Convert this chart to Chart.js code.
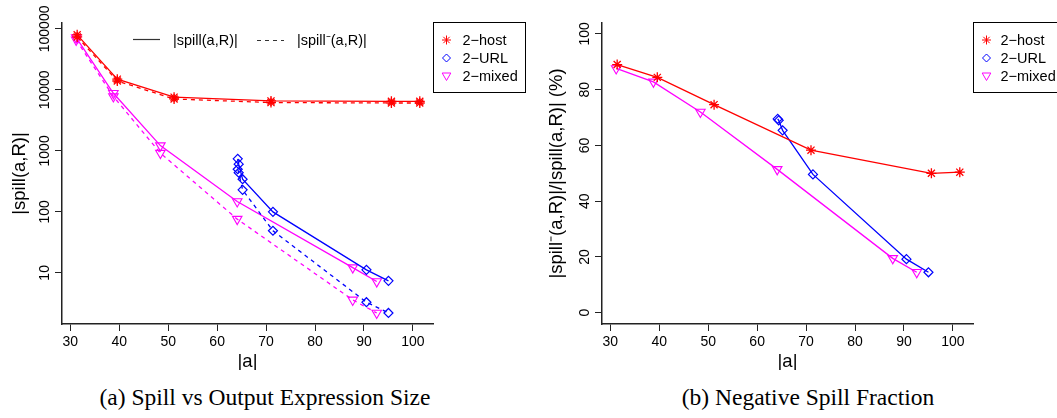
<!DOCTYPE html>
<html><head><meta charset="utf-8">
<script src="https://cdn.jsdelivr.net/npm/chart.js@4.4.1/dist/chart.umd.min.js"></script>
<style>
html,body{margin:0;padding:0;background:#fff;width:1057px;height:418px;overflow:hidden;}
#c1{position:absolute;left:0;top:0;}
#c2{position:absolute;left:540px;top:0;}
.cap{position:absolute;top:384px;font-family:"Liberation Serif","Times New Roman",serif;font-size:23.5px;color:#000;white-space:nowrap;transform:translateX(-50%);}
</style></head><body>
<canvas id="c1" width="540" height="370"></canvas>
<canvas id="c2" width="517" height="370"></canvas>
<div class="cap" style="left:265px">(a) Spill vs Output Expression Size</div>
<div class="cap" style="left:808px">(b) Negative Spill Fraction</div>
<script>
// ---- data ----
const xTicks = [30, 40, 50, 60, 70, 80, 90, 100];
const yTicksLog = [10, 100, 1000, 10000, 100000];
const yTicksPct = [0, 20, 40, 60, 80, 100];
const seriesNames = ['2\u2212host', '2\u2212URL', '2\u2212mixed'];

const hostX = [31.4, 39.6, 51.2, 71.0, 95.6, 101.4];
const hostSpill = [80000, 15000, 7600, 6600, 6500, 6500];
const hostNeg = [74000, 14000, 7100, 6200, 6100, 6100];
const hostPct = [89.0, 84.4, 74.6, 58.3, 50.0, 50.4];

const urlX = [64.2, 64.4, 65.2, 71.4, 90.5, 95.0];
const urlSpill = [740, 605, 343, 100, 11.2, 7.4];
const urlNeg = [500, 440, 230, 49, 3.3, 2.2];
const urlPct = [69.5, 69.0, 65.4, 49.6, 19.2, 14.5];

const mixX = [31.2, 38.8, 48.4, 64.1, 87.7, 92.6];
const mixSpill = [72000, 8800, 1220, 148, 12.2, 7.2];
const mixNeg = [66000, 7800, 920, 76, 3.6, 2.2];
const mixPct = [87.6, 82.8, 72.0, 51.4, 19.5, 14.5];

// ---- styles ----
const RED = '#ff0000', BLUE = '#0000ff', MAG = '#ff00ff';
const AX = '#222';
const SANS = '"Liberation Sans", Arial, Helvetica, sans-serif';
const marks = [
  {color: RED, pointStyle: 'star', radius: 5, rotation: 0, bw: 1.3},
  {color: BLUE, pointStyle: 'rectRot', radius: 4.5, rotation: 0, bw: 1.2},
  {color: MAG, pointStyle: 'triangle', radius: 5.5, rotation: 180, bw: 1.1}
];

function pts(xs, ys) { return xs.map((x, i) => ({x: x, y: ys[i]})); }
function ds(xs, ys, m, dashed) {
  return {
    data: pts(xs, ys),
    borderColor: m.color, backgroundColor: 'rgba(0,0,0,0)',
    borderWidth: 1.3, borderDash: dashed ? [4, 4] : [],
    pointStyle: m.pointStyle, pointRadius: m.radius, pointRotation: m.rotation,
    pointBorderColor: m.color, pointBackgroundColor: 'rgba(0,0,0,0)', pointBorderWidth: m.bw,
    tension: 0, clip: false, showLine: true
  };
}

const origDrawPoint = Chart.helpers.drawPoint;
function legendMarker(ctx, i, x, y) {
  const m = marks[i];
  ctx.save();
  ctx.strokeStyle = m.color; ctx.fillStyle = 'rgba(0,0,0,0)'; ctx.setLineDash([]);
  origDrawPoint(ctx, {pointStyle: m.pointStyle, radius: m.radius - 0.5, rotation: m.rotation, borderWidth: m.bw}, x, y);
  ctx.restore();
}

const textPlugin = {
  id: 'txt',
  afterDraw(chart, args, opts) {
    const ctx = chart.ctx, ca = chart.chartArea;
    const xs = chart.scales.x, ys = chart.scales.y;
    ctx.save();
    ctx.fillStyle = '#000';
    ctx.font = '14px ' + SANS;
    ctx.textAlign = 'center'; ctx.textBaseline = 'alphabetic';
    xTicks.forEach(v => ctx.fillText(String(v), xs.getPixelForValue(v), 346));
    opts.yTicks.forEach(v => {
      const p = ys.getPixelForValue(v);
      ctx.save(); ctx.translate(ca.left - 13, p); ctx.rotate(-Math.PI / 2);
      ctx.fillText(String(v), 0, 0); ctx.restore();
    });
    ctx.font = '18.5px ' + SANS;
    ctx.fillText('|a|', (ca.left + ca.right) / 2, 367);
    ctx.save(); ctx.translate(opts.yTitleX, (ca.top + ca.bottom) / 2); ctx.rotate(-Math.PI / 2);
    ctx.fillText(opts.yTitle, 0, 0); ctx.restore();

    // series legend box
    const bx = ca.right + 0.5, by = 22.5, bw = 92, bh = 70;
    ctx.strokeStyle = '#000'; ctx.lineWidth = 1; ctx.setLineDash([]);
    ctx.strokeRect(bx, by, bw, bh);
    ctx.font = '14.5px ' + SANS; ctx.textAlign = 'left'; ctx.textBaseline = 'middle';
    [40, 58, 75.5].forEach((yy, i) => {
      legendMarker(ctx, i, bx + 13, yy);
      ctx.fillStyle = '#000';
      ctx.fillText(seriesNames[i], bx + opts.legTextOff, yy + 1);
    });
    // line-type legend (left panel only)
    if (opts.lineLegend) {
      ctx.strokeStyle = '#333'; ctx.lineWidth = 1.2;
      ctx.beginPath(); ctx.moveTo(133, 39.5); ctx.lineTo(160, 39.5); ctx.stroke();
      ctx.setLineDash([4, 4]);
      ctx.beginPath(); ctx.moveTo(257, 40.5); ctx.lineTo(284, 40.5); ctx.stroke();
      ctx.setLineDash([]);
      ctx.fillStyle = '#000';
      ctx.fillText('|spill(a,R)|', 173, 41);
      ctx.fillText('|spill\u207B(a,R)|', 297, 41);
    }
    ctx.restore();
  }
};

function axisCommon(ticksArr, fitFn) {
  return {
    afterBuildTicks: s => { s.ticks = ticksArr.map(v => ({value: v})); },
    afterFit: fitFn,
    ticks: {display: false},
    grid: {display: true, drawOnChartArea: false, drawTicks: true, tickLength: 7, color: AX, lineWidth: 1},
    border: {display: true, color: AX, width: 1.5}
  };
}

function makeChart(id, datasets, yScale, rightPad, opts) {
  return new Chart(document.getElementById(id), {
    type: 'scatter',
    data: {datasets: datasets},
    options: {
      responsive: false, animation: false, devicePixelRatio: 1,
      layout: {padding: {top: 23, right: rightPad, left: 0, bottom: 0}},
      plugins: {legend: {display: false}, tooltip: {enabled: false}, txt: opts},
      scales: {
        x: Object.assign({type: 'linear', min: 28.3, max: 104.1}, axisCommon(xTicks, s => { s.height = 46; })),
        y: Object.assign(yScale, axisCommon(opts.yTicks, s => { s.width = 62; }))
      }
    },
    plugins: [textPlugin]
  });
}

const leftSets = [
  ds(hostX, hostSpill, marks[0], false), ds(hostX, hostNeg, marks[0], true),
  ds(urlX, urlSpill, marks[1], false), ds(urlX, urlNeg, marks[1], true),
  ds(mixX, mixSpill, marks[2], false), ds(mixX, mixNeg, marks[2], true)
];
const rightSets = [
  ds(hostX, hostPct, marks[0], false),
  ds(urlX, urlPct, marks[1], false),
  ds(mixX, mixPct, marks[2], false)
];

makeChart('c1', leftSets, {type: 'logarithmic', min: 1.45, max: 125000}, 107,
  {yTicks: yTicksLog, yTitle: '|spill(a,R)|', yTitleX: 24.5, legTextOff: 29, lineLegend: true});
makeChart('c2', rightSets, {type: 'linear', min: -4.05, max: 103.9}, 84,
  {yTicks: yTicksPct, yTitle: '|spill\u207B(a,R)|/|spill(a,R)| (%)', yTitleX: 22, legTextOff: 27, lineLegend: false});
</script>
</body></html>
